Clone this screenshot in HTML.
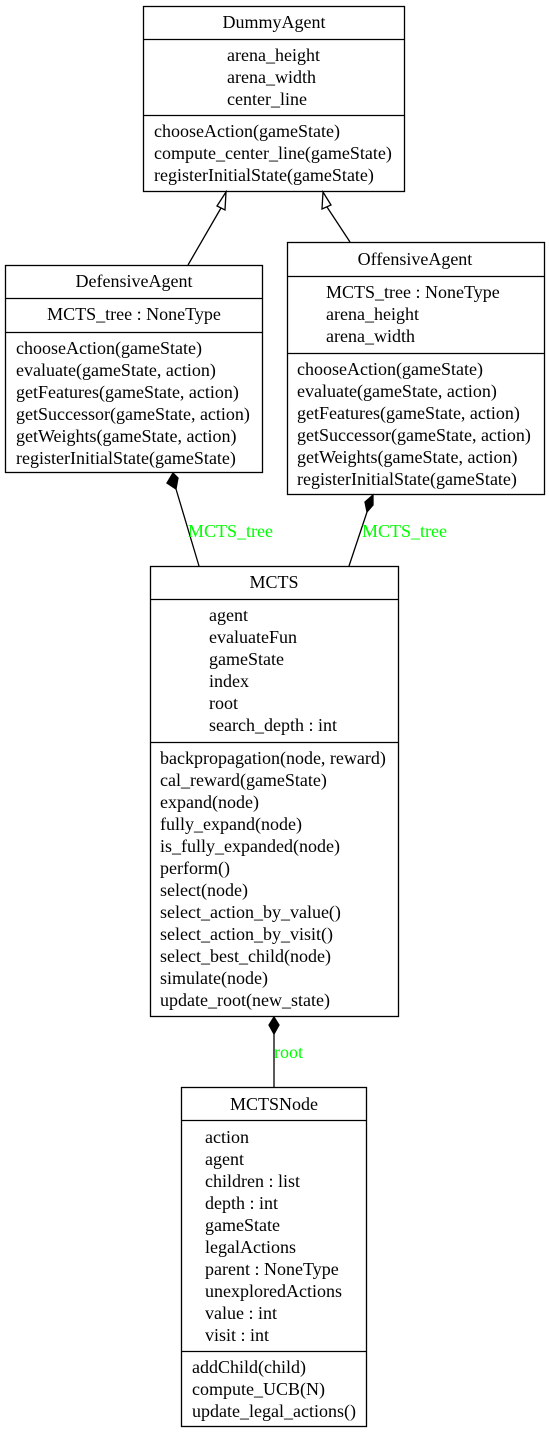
<!DOCTYPE html>
<html><head><meta charset="utf-8"><style>
html,body{margin:0;padding:0;background:#fff}
svg{display:block}
text{font-family:"Liberation Serif",serif;font-size:18px;fill:#000}
.g{fill:#00ff00}
</style></head><body>
<svg width="549" height="1433" viewBox="0 0 549 1433" xmlns="http://www.w3.org/2000/svg">
<g fill="none" stroke="#000" stroke-width="1.3">
<rect x="143.5" y="6.5" width="261" height="185"/><line x1="143.5" y1="39.5" x2="404.5" y2="39.5"/><line x1="143.5" y1="115.5" x2="404.5" y2="115.5"/>
<rect x="5.5" y="265.5" width="257" height="207"/><line x1="5.5" y1="298.5" x2="262.5" y2="298.5"/><line x1="5.5" y1="332.5" x2="262.5" y2="332.5"/>
<rect x="287.5" y="242.5" width="257" height="252"/><line x1="287.5" y1="276.5" x2="544.5" y2="276.5"/><line x1="287.5" y1="353.5" x2="544.5" y2="353.5"/>
<rect x="150.5" y="566.5" width="248" height="450"/><line x1="150.5" y1="599.5" x2="398.5" y2="599.5"/><line x1="150.5" y1="742.5" x2="398.5" y2="742.5"/>
<rect x="181.5" y="1087.5" width="185" height="339"/><line x1="181.5" y1="1120.5" x2="366.5" y2="1120.5"/><line x1="181.5" y1="1351.5" x2="366.5" y2="1351.5"/>
<line x1="188" y1="265" x2="221" y2="208"/><polygon points="226,192 217,206 225,210" fill="#fff"/>
<line x1="350" y1="242" x2="327" y2="207"/><polygon points="323,192 322,209 331,205" fill="#fff"/>
<line x1="199" y1="566" x2="176" y2="489"/><polygon points="173,473 167,483 176,489 178,478" fill="#000"/>
<line x1="349" y1="566" x2="367" y2="512"/><polygon points="373,495 365,502 367,512 373,505" fill="#000"/>
<line x1="274" y1="1087" x2="274" y2="1034"/><polygon points="274,1017 269,1025 274,1034 279,1025" fill="#000"/>
</g>
<text x="274" y="28" text-anchor="middle">DummyAgent</text>
<text x="227" y="61">arena_height</text><text x="227" y="83">arena_width</text><text x="227" y="105">center_line</text>
<text x="154" y="137">chooseAction(gameState)</text><text x="154" y="159">compute_center_line(gameState)</text><text x="154" y="181">registerInitialState(gameState)</text>
<text x="134" y="287" text-anchor="middle">DefensiveAgent</text>
<text x="134" y="320" text-anchor="middle">MCTS_tree : NoneType</text>
<text x="16" y="354">chooseAction(gameState)</text><text x="16" y="376">evaluate(gameState, action)</text><text x="16" y="398">getFeatures(gameState, action)</text><text x="16" y="420">getSuccessor(gameState, action)</text><text x="16" y="442">getWeights(gameState, action)</text><text x="16" y="464">registerInitialState(gameState)</text>
<text x="415" y="265" text-anchor="middle">OffensiveAgent</text>
<text x="326" y="298">MCTS_tree : NoneType</text><text x="326" y="320">arena_height</text><text x="326" y="342">arena_width</text>
<text x="297" y="375">chooseAction(gameState)</text><text x="297" y="397">evaluate(gameState, action)</text><text x="297" y="419">getFeatures(gameState, action)</text><text x="297" y="441">getSuccessor(gameState, action)</text><text x="297" y="463">getWeights(gameState, action)</text><text x="297" y="485">registerInitialState(gameState)</text>
<text class="g" x="188" y="537">MCTS_tree</text><text class="g" x="362" y="537">MCTS_tree</text>
<text x="274" y="588" text-anchor="middle">MCTS</text>
<text x="209" y="621">agent</text><text x="209" y="643">evaluateFun</text><text x="209" y="665">gameState</text><text x="209" y="687">index</text><text x="209" y="709">root</text><text x="209" y="731">search_depth : int</text>
<text x="160" y="764">backpropagation(node, reward)</text><text x="160" y="786">cal_reward(gameState)</text><text x="160" y="808">expand(node)</text><text x="160" y="830">fully_expand(node)</text><text x="160" y="852">is_fully_expanded(node)</text><text x="160" y="874">perform()</text><text x="160" y="896">select(node)</text><text x="160" y="918">select_action_by_value()</text><text x="160" y="940">select_action_by_visit()</text><text x="160" y="962">select_best_child(node)</text><text x="160" y="984">simulate(node)</text><text x="160" y="1006">update_root(new_state)</text>
<text class="g" x="274" y="1058">root</text>
<text x="274" y="1110" text-anchor="middle">MCTSNode</text>
<text x="205" y="1143">action</text><text x="205" y="1165">agent</text><text x="205" y="1187">children : list</text><text x="205" y="1209">depth : int</text><text x="205" y="1231">gameState</text><text x="205" y="1253">legalActions</text><text x="205" y="1275">parent : NoneType</text><text x="205" y="1297">unexploredActions</text><text x="205" y="1319">value : int</text><text x="205" y="1341">visit : int</text>
<text x="192" y="1373">addChild(child)</text><text x="192" y="1395">compute_UCB(N)</text><text x="192" y="1417">update_legal_actions()</text>
</svg>
</body></html>
